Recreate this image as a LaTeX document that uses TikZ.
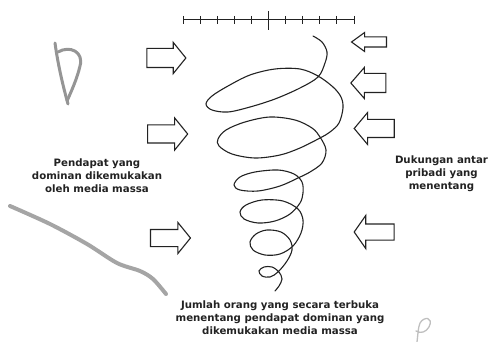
\documentclass[tikz,border=0pt]{standalone}
\usepackage{fontspec}
\usepackage{tikz}
\usetikzlibrary{shapes.arrows}

\newfontfamily\labelfont{DejaVu Sans}

\definecolor{ink}{HTML}{222222}
\definecolor{pencil}{HTML}{959595}

\tikzset{
  blockarrow/.style={single arrow, draw=ink, line width=1.1pt, fill=white,
    inner xsep=0pt, outer sep=0pt},
  leftarrow/.style={blockarrow, shape border rotate=180},
  caption/.style={align=center, text=ink, font=\labelfont\bfseries\fontsize{10.2}{13}\selectfont},
  scribble/.style={draw=pencil, line width=3pt, line cap=round, line join=round}
}

\begin{document}
\begin{tikzpicture}[x=1pt,y=-1pt]
\useasboundingbox (0,0) rectangle (490,342);

% scale bar on top
\coordinate (bar-l) at (183,20);
\coordinate (bar-r) at (354,20);
\draw[ink, line width=1pt] (bar-l) -- (bar-r);
\foreach \i in {0,...,10}{
  \ifnum\i=5
    \draw[ink, line width=1.1pt] (183+\i*17.1,11) -- (183+\i*17.1,30);
  \else
    \draw[ink, line width=1pt] (183+\i*17.1,16) -- (183+\i*17.1,24);
  \fi
}

% pressure from the media
\node[blockarrow, minimum height=39pt, inner ysep=9pt, single arrow head extend=6pt, single arrow tip angle=102] (m1) at (162.5,58) {};

\node[blockarrow, minimum height=40pt, inner ysep=8.5pt, single arrow head extend=7pt, single arrow tip angle=102] (m2) at (164,134) {};

\node[blockarrow, minimum height=40pt, inner ysep=8pt, single arrow head extend=7pt, single arrow tip angle=102] (m3) at (167,238) {};

% interpersonal support
\node[leftarrow, minimum height=35pt, inner ysep=4.5pt, single arrow head extend=4.5pt, single arrow tip angle=72] (s1) at (372.5,42) {};

\node[leftarrow, minimum height=35pt, inner ysep=9pt, single arrow head extend=6pt, single arrow tip angle=98] (s2) at (372.5,83) {};

\node[leftarrow, minimum height=40pt, inner ysep=8.5pt, single arrow head extend=7pt, single arrow tip angle=100] (s3) at (378,128.5) {};

\node[leftarrow, minimum height=40pt, inner ysep=7.5pt, single arrow head extend=8.5pt, single arrow tip angle=110] (s4) at (377,232) {};

% the spiral
\draw[ink, line width=1.1pt, line cap=round] plot[smooth, tension=0.55] coordinates {
  (313,36) (322,42) (327,52) (325,63) (318,77) (300,88) (275,99) (250,107)
  (228,112) (212,110) (206,104) (212,96) (228,86) (250,75) (275,69) (300,69)
  (318,76) (333,87) (341,97) (343,108) (339,123) (330,132) (320,138) (300,148)
  (280,155) (255,158) (232,154) (219,146) (218,139) (226,130) (245,122) (270,117)
  (295,120) (312,128) (320,137) (326,150) (322,163) (310,172) (298,178) (280,186)
  (258,191) (240,190) (234,185) (240,177) (255,172) (278,170) (294,174) (302,182)
  (303,193) (300,203) (290,214) (275,221) (258,223) (244,219) (240,212) (246,205)
  (262,200) (283,201) (298,209) (303,220) (301,233) (293,246) (280,254) (265,255)
  (253,250) (250,242) (256,234) (267,230) (281,232) (290,240) (292,250) (287,261)
  (278,272) (270,277) (262,276) (259,271) (264,267) (272,267) (279,272) (282,279)
  (279,286) (275,291)};

\node[caption] (media) at (97,176) {Pendapat yang\\dominan dikemukakan\\oleh media massa};

\node[caption] (support) at (441.5,174) {Dukungan antar\\pribadi yang\\menentang};

\node[caption] (count) at (280,318) {Jumlah orang yang secara terbuka\\menentang pendapat dominan yang\\dikemukakan media massa};

% pencil marks
\draw[scribble] (55,43) .. controls (58,65) and (63,86) .. (68,104);
\draw[scribble] (58,52) .. controls (70,45) and (84,52) .. (80,66) .. controls (77,79) and (71,92) .. (67,101);
\draw[scribble, draw=pencil!85, line width=4pt] plot[smooth] coordinates {
  (10,206) (50,224) (87,244) (117,263) (140,271) (153,279) (166,294)};
\draw[scribble, draw=pencil!60, line width=1.3pt] (417,342) .. controls (418,334) and (418,328) .. (420,323)
  .. controls (424,316) and (434,317) .. (429,327) .. controls (426,332) and (421,334) .. (416,331);

\end{tikzpicture}
\end{document}
